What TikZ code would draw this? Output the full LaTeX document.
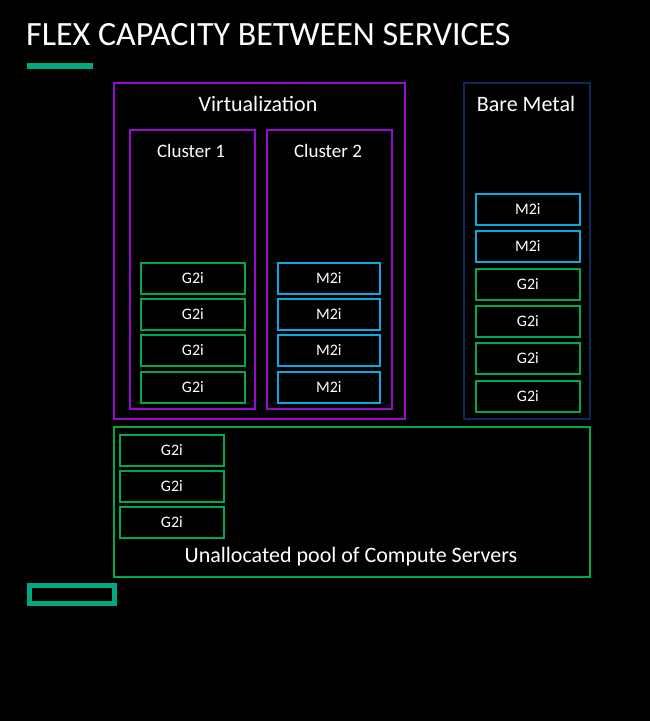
\documentclass[tikz,border=0pt]{standalone}
\usepackage{fontspec}
\setmainfont{Carlito}
\definecolor{hpeteal}{RGB}{1,169,130}
\definecolor{srvgreen}{RGB}{0,168,80}
\definecolor{srvcyan}{RGB}{10,168,225}
\definecolor{virtpurple}{RGB}{150,10,210}
\definecolor{metalnavy}{RGB}{12,40,92}
\begin{document}
\begin{tikzpicture}[x=1pt,y=-1pt,
  box/.style={draw, line width=1.8pt, anchor=north west, inner sep=0pt},
  server/.style={box, minimum width=104pt, minimum height=31pt,
    text=white, font=\fontsize{16}{16}\selectfont},
  gserver/.style={server, draw=srvgreen},
  mserver/.style={server, draw=srvcyan},
  heading/.style={text=white, font=\fontsize{22}{22}\selectfont},
  subheading/.style={text=white, font=\fontsize{19}{19}\selectfont}]
  % page background
  \fill[black] (0,0) rectangle (650,721);
  \useasboundingbox (0,0) rectangle (650,721);

  % title and accent bar
  \node[anchor=west, text=white, inner sep=0pt, font=\fontsize{34}{34}\selectfont] (title) at (26,35) {FLEX CAPACITY BETWEEN SERVICES};
  \fill[hpeteal] (27,63) rectangle (93,69);

  % virtualization service with its two clusters
  \node[box, draw=virtpurple, minimum width=291pt, minimum height=336pt] (virt) at (113,82) {};
  \node[heading] (virtlbl) at (258,104) {Virtualization};
  \node[box, draw=virtpurple, minimum width=125pt, minimum height=279pt] (cl1) at (129,129) {};
  \node[box, draw=virtpurple, minimum width=125pt, minimum height=279pt] (cl2) at (266,129) {};
  \node[subheading] (cl1lbl) at (191,151) {Cluster 1};
  \node[subheading] (cl2lbl) at (328,151) {Cluster 2};

  \node[gserver] (c1a) at (140,262) {G2i};
  \node[gserver] (c1b) at (140,298) {G2i};
  \node[gserver] (c1c) at (140,334) {G2i};
  \node[gserver] (c1d) at (140,371) {G2i};

  \node[mserver, minimum width=102pt] (c2a) at (277,262) {M2i};
  \node[mserver, minimum width=102pt] (c2b) at (277,298) {M2i};
  \node[mserver, minimum width=102pt] (c2c) at (277,334) {M2i};
  \node[mserver, minimum width=102pt] (c2d) at (277,371) {M2i};

  % bare metal service
  \node[box, draw=metalnavy, minimum width=126pt, minimum height=336pt] (metal) at (463,82) {};
  \node[heading] (metallbl) at (526,104) {Bare Metal};
  \node[mserver] (bma) at (475,193) {M2i};
  \node[mserver] (bmb) at (475,230) {M2i};
  \node[gserver] (bmc) at (475,268) {G2i};
  \node[gserver] (bmd) at (475,305) {G2i};
  \node[gserver] (bme) at (475,342) {G2i};
  \node[gserver] (bmf) at (475,380) {G2i};

  % unallocated pool
  \node[box, draw=srvgreen, minimum width=476pt, minimum height=150pt] (pool) at (113,426) {};
  \node[gserver] (pa) at (119,434) {G2i};
  \node[gserver] (pb) at (119,470) {G2i};
  \node[gserver] (pc) at (119,506) {G2i};
  \node[heading] (poollbl) at (351,557) {Unallocated pool of Compute Servers};

  % logo outline
  \draw[hpeteal, line width=5pt] (29.5,585.5) rectangle (114.5,603.5);
\end{tikzpicture}
\end{document}
